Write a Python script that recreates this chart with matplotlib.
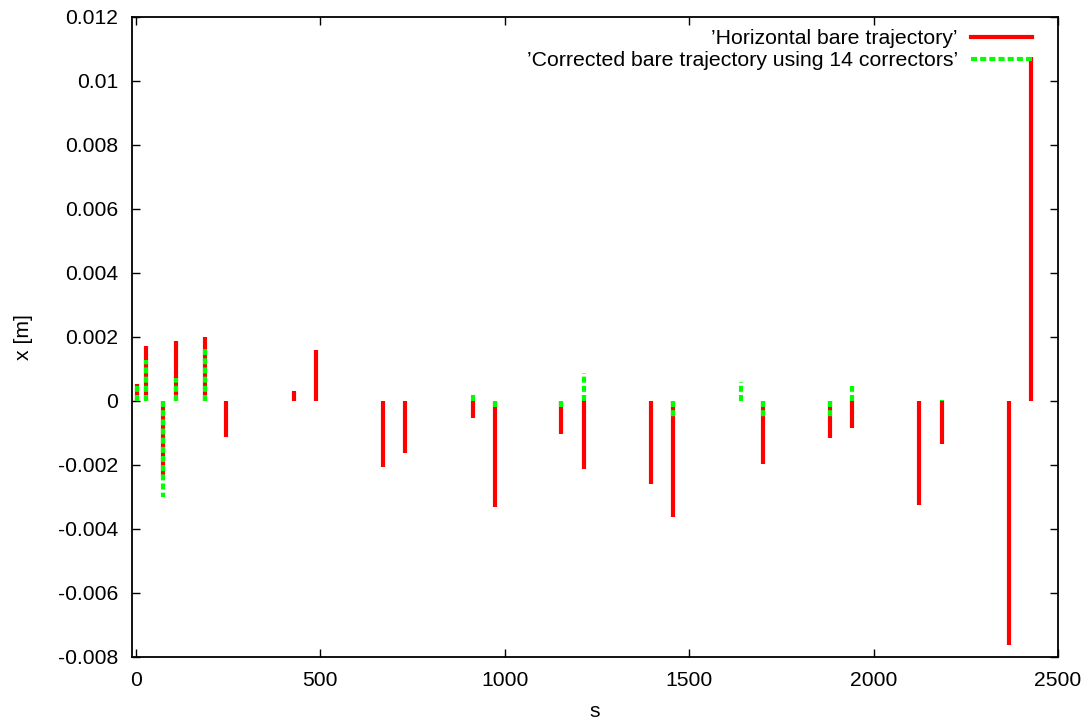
"""Horizontal bare trajectory vs corrected trajectory (gnuplot impulses look)."""

import matplotlib
matplotlib.use("Agg")
import matplotlib.pyplot as plt
from matplotlib.lines import Line2D
from matplotlib.ticker import FormatStrFormatter

plt.rcParams["font.family"] = ["Liberation Sans", "DejaVu Sans"]
plt.rcParams["axes.unicode_minus"] = False

# BPM positions along the line (s) and readings (m)
s_pos = [3, 27, 74, 110, 187, 246, 428, 488, 671, 731, 913, 973,
         1154, 1216, 1396, 1457, 1640, 1700, 1882, 1942, 2124, 2185, 2368, 2428]
x_bare = [0.00053, 0.00172, -0.00235, 0.00188, 0.00200, -0.00111, 0.00031, 0.00160,
          -0.00207, -0.00164, -0.00054, -0.00330, -0.00102, -0.00213, -0.00260, -0.00362,
          0.0, -0.00196, -0.00116, -0.00083, -0.00326, -0.00135, -0.00763, 0.01076]
x_corr = [0.00048, 0.00128, -0.00301, 0.00072, 0.00165, 0.0, 0.0, 0.0,
          0.0, 0.0, 0.00021, -0.00018, -0.00018, 0.00089, 0.0, -0.00057,
          0.00058, -0.00057, -0.00057, 0.00048, 0.0, 0.00002, 0.0, 0.0]

labels = ["\u2019Horizontal bare trajectory\u2019",
          "\u2019Corrected bare trajectory using 14 correctors\u2019"]

RED = "#ff0000"
GREEN = "#00ff00"
DASH = (0, (1.45, 0.75))

fig = plt.figure(figsize=(10.89, 7.21), dpi=100)
ax = fig.add_axes([132 / 1089, 1 - 657 / 721, (1058 - 132) / 1089, (657 - 17) / 721])

ax.vlines(s_pos, 0, x_bare, colors=RED, linewidth=3)
ax.vlines(s_pos, 0, x_corr, colors=GREEN, linewidth=3, linestyles=DASH)

ax.set_xlim(-10, 2500)
ax.set_ylim(-0.008, 0.012)
ax.set_xticks(range(0, 2501, 500))
ax.set_yticks([i * 0.002 for i in range(-4, 7)])
ax.yaxis.set_major_formatter(FormatStrFormatter("%g"))

ax.tick_params(direction="in", length=6, width=1, labelsize=15.2, pad=10,
               top=True, right=True)
for spine in ax.spines.values():
    spine.set_linewidth(1.3)

ax.set_xlabel("s", fontsize=15.2, labelpad=9)
ax.set_ylabel("x [m]", fontsize=15.2, labelpad=18)

handles = [Line2D([], [], color=RED, linewidth=3),
           Line2D([], [], color=GREEN, linewidth=3, linestyle=DASH)]
ax.legend(handles, labels, loc="upper right", bbox_to_anchor=(1032 / 1089, 1 - 29 / 721),
          bbox_transform=fig.transFigure, frameon=False, fontsize=15.3,
          markerfirst=False, handlelength=2.85, handletextpad=0.64,
          labelspacing=0.15, borderpad=0, borderaxespad=0)

fig.savefig("out.png", dpi=100)
plt.close(fig)
